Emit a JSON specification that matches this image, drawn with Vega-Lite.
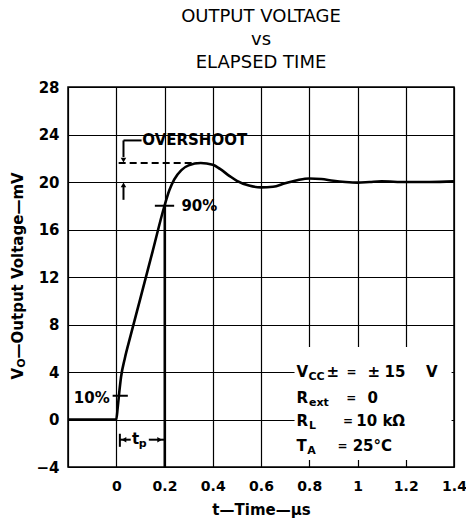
{
  "$schema": "https://vega.github.io/schema/vega-lite/v6.json",
  "width": 386,
  "height": 380,
  "autosize": {"type": "none"},
  "padding": {"left": 68, "top": 87, "right": 12, "bottom": 54},
  "background": "white",
  "config": {
    "view": {"stroke": "black", "strokeWidth": 1.5},
    "axis": {
      "grid": true, "gridColor": "black", "gridWidth": 1.2, "gridOpacity": 1,
      "ticks": false, "tickSize": 0, "domain": false,
      "labelFont": "DejaVu Sans", "labelFontWeight": "bold", "labelFontSize": 15, "labelColor": "black",
      "titleFont": "DejaVu Sans", "titleFontWeight": "bold", "titleFontSize": 15, "titleColor": "black"
    },
    "text": {"font": "DejaVu Sans", "fontWeight": "bold", "color": "black"}
  },
  "title": {
    "text": ["OUTPUT VOLTAGE", "vs", "ELAPSED TIME"],
    "font": "DejaVu Sans", "fontSize": 18, "fontWeight": "normal", "color": "black",
    "lineHeight": 23, "anchor": "middle", "frame": "group", "baseline": "bottom", "offset": -10
  },
  "datasets": {
    "curve": [
      {"x": -0.2, "y": 0}, {"x": 0, "y": 0}, {"x": 0.006, "y": 1}, {"x": 0.012, "y": 2.2},
      {"x": 0.02, "y": 3.6}, {"x": 0.035, "y": 5.1}, {"x": 0.06, "y": 7.1}, {"x": 0.1, "y": 10.2},
      {"x": 0.15, "y": 14.1}, {"x": 0.2, "y": 18}, {"x": 0.22, "y": 19.3}, {"x": 0.24, "y": 20.2},
      {"x": 0.27, "y": 21.0}, {"x": 0.3, "y": 21.4}, {"x": 0.35, "y": 21.6}, {"x": 0.4, "y": 21.45},
      {"x": 0.43, "y": 21.1}, {"x": 0.47, "y": 20.5}, {"x": 0.5, "y": 20.1}, {"x": 0.55, "y": 19.7},
      {"x": 0.6, "y": 19.55}, {"x": 0.65, "y": 19.6}, {"x": 0.7, "y": 19.9}, {"x": 0.75, "y": 20.15},
      {"x": 0.8, "y": 20.3}, {"x": 0.85, "y": 20.25}, {"x": 0.9, "y": 20.1}, {"x": 0.95, "y": 20.0},
      {"x": 1.0, "y": 19.95}, {"x": 1.05, "y": 20.0}, {"x": 1.1, "y": 20.05}, {"x": 1.2, "y": 20.0},
      {"x": 1.3, "y": 20.0}, {"x": 1.4, "y": 20.05}
    ],
    "mask": [{"x": 0.739, "x2": 1.39, "y": -3.4, "y2": 6.1}],
    "rules": [
      {"x": -0.015, "x2": 0.048, "y": 2, "y2": 2, "kind": "solid"},
      {"x": 0.16, "x2": 0.24, "y": 18, "y2": 18, "kind": "solid"},
      {"x": 0.03, "x2": 0.105, "y": 23.5, "y2": 23.5, "kind": "solid"},
      {"x": 0.03, "x2": 0.03, "y": 23.5, "y2": 22.1, "kind": "solid"},
      {"x": 0.03, "x2": 0.03, "y": 18.5, "y2": 19.6, "kind": "solid"},
      {"x": 0.015, "x2": 0.015, "y": -1.2, "y2": -2.3, "kind": "solid"},
      {"x": 0.015, "x2": 0.06, "y": -1.7, "y2": -1.7, "kind": "solid"},
      {"x": 0.135, "x2": 0.2, "y": -1.7, "y2": -1.7, "kind": "solid"},
      {"x": 0.2, "x2": 0.2, "y": 18, "y2": -4, "kind": "solid"},
      {"x": 0.01, "x2": 0.37, "y": 21.6, "y2": 21.6, "kind": "dash"}
    ],
    "arrows": [
      {"x": 0.03, "y": 21.85, "dir": "down"},
      {"x": 0.03, "y": 19.75, "dir": "up"},
      {"x": 0.032, "y": -1.7, "dir": "left"},
      {"x": 0.18, "y": -1.7, "dir": "right"}
    ],
    "texts": [
      {"x": 0.108, "y": 23.5, "t": "OVERSHOOT", "role": "main"},
      {"x": 0.27, "y": 18.0, "t": "90%", "role": "main"},
      {"x": -0.027, "y": 1.8, "t": "10%", "role": "right"},
      {"x": 0.065, "y": -1.6, "t": "t", "role": "main"},
      {"x": 0.093, "y": -1.6, "t": "p", "role": "sub"},
      {"x": 0.747, "y": 3.96, "t": "V", "role": "main"},
      {"x": 0.797, "y": 3.96, "t": "CC", "role": "sub"},
      {"x": 0.872, "y": 3.96, "t": "±", "role": "main"},
      {"x": 0.954, "y": 3.96, "t": "=", "role": "eq"},
      {"x": 1.041, "y": 3.96, "t": "±", "role": "main"},
      {"x": 1.112, "y": 3.96, "t": "15", "role": "main"},
      {"x": 1.284, "y": 3.96, "t": "V", "role": "main"},
      {"x": 0.747, "y": 1.77, "t": "R", "role": "main"},
      {"x": 0.799, "y": 1.77, "t": "ext", "role": "sub"},
      {"x": 0.953, "y": 1.77, "t": "=", "role": "eq"},
      {"x": 1.041, "y": 1.77, "t": "0", "role": "main"},
      {"x": 0.747, "y": -0.14, "t": "R", "role": "main"},
      {"x": 0.799, "y": -0.14, "t": "L", "role": "sub"},
      {"x": 0.94, "y": -0.14, "t": "=", "role": "eq"},
      {"x": 0.995, "y": -0.14, "t": "10 kΩ", "role": "main"},
      {"x": 0.747, "y": -2.25, "t": "T", "role": "main"},
      {"x": 0.792, "y": -2.25, "t": "A", "role": "sub"},
      {"x": 0.917, "y": -2.25, "t": "=", "role": "eq"},
      {"x": 0.98, "y": -2.25, "t": "25°C", "role": "main"},
      {"x": -0.408, "y": 3.37, "t": "V", "role": "ytitle"},
      {"x": -0.408, "y": 4.35, "t": "O", "role": "ytitlesub"},
      {"x": -0.408, "y": 5.14, "t": "—Output Voltage—mV", "role": "ytitle"}
    ]
  },
  "encoding": {
    "x": {"field": "x", "type": "quantitative",
      "scale": {"domain": [-0.2, 1.4], "nice": false, "zero": false},
      "axis": {"values": [-0.2, 0, 0.2, 0.4, 0.6, 0.8, 1, 1.2, 1.4],
        "labelExpr": "datum.value < -0.1 ? '' : format(datum.value, '~g')",
        "labelFontSize": 14, "labelPadding": 12, "labelFlush": false,
        "title": "t—Time—µs", "titlePadding": 9}},
    "y": {"field": "y", "type": "quantitative",
      "scale": {"domain": [-4, 28], "nice": false, "zero": false},
      "axis": {"values": [-4, 0, 4, 8, 12, 16, 20, 24, 28], "labelPadding": 9, "title": null}}
  },
  "layer": [
    {
      "data": {"name": "mask"},
      "mark": {"type": "rect", "fill": "white"},
      "encoding": {"x2": {"field": "x2"}, "y2": {"field": "y2"}}
    },
    {
      "data": {"name": "curve"},
      "mark": {"type": "line", "color": "black", "strokeWidth": 2.6, "interpolate": "monotone"}
    },
    {
      "data": {"name": "rules"},
      "transform": [{"filter": "datum.kind == 'solid'"}],
      "mark": {"type": "rule", "color": "black", "strokeWidth": 2},
      "encoding": {"x2": {"field": "x2"}, "y2": {"field": "y2"}}
    },
    {
      "data": {"name": "rules"},
      "transform": [{"filter": "datum.kind == 'dash'"}],
      "mark": {"type": "rule", "color": "black", "strokeWidth": 2, "strokeDash": [7, 4]},
      "encoding": {"x2": {"field": "x2"}, "y2": {"field": "y2"}}
    },
    {
      "data": {"name": "arrows"},
      "transform": [{"filter": "datum.dir == 'down'"}],
      "mark": {"type": "point", "shape": "triangle-down", "filled": true, "color": "black", "size": 30, "opacity": 1}
    },
    {
      "data": {"name": "arrows"},
      "transform": [{"filter": "datum.dir == 'up'"}],
      "mark": {"type": "point", "shape": "triangle-up", "filled": true, "color": "black", "size": 30, "opacity": 1}
    },
    {
      "data": {"name": "arrows"},
      "transform": [{"filter": "datum.dir == 'left'"}],
      "mark": {"type": "point", "shape": "triangle-left", "filled": true, "color": "black", "size": 30, "opacity": 1}
    },
    {
      "data": {"name": "arrows"},
      "transform": [{"filter": "datum.dir == 'right'"}],
      "mark": {"type": "point", "shape": "triangle-right", "filled": true, "color": "black", "size": 30, "opacity": 1}
    },
    {
      "data": {"name": "texts"},
      "transform": [{"filter": "datum.role == 'main'"}],
      "mark": {"type": "text", "align": "left", "baseline": "middle", "fontSize": 15},
      "encoding": {"text": {"field": "t"}}
    },
    {
      "data": {"name": "texts"},
      "transform": [{"filter": "datum.role == 'eq'"}],
      "mark": {"type": "text", "align": "left", "baseline": "middle", "fontSize": 12},
      "encoding": {"text": {"field": "t"}}
    },
    {
      "data": {"name": "texts"},
      "transform": [{"filter": "datum.role == 'sub'"}],
      "mark": {"type": "text", "align": "left", "baseline": "middle", "fontSize": 11, "dy": 5},
      "encoding": {"text": {"field": "t"}}
    },
    {
      "data": {"name": "texts"},
      "transform": [{"filter": "datum.role == 'right'"}],
      "mark": {"type": "text", "align": "right", "baseline": "middle", "fontSize": 15},
      "encoding": {"text": {"field": "t"}}
    },
    {
      "data": {"name": "texts"},
      "transform": [{"filter": "datum.role == 'ytitle'"}],
      "mark": {"type": "text", "align": "left", "baseline": "middle", "fontSize": 15, "angle": 270},
      "encoding": {"text": {"field": "t"}}
    },
    {
      "data": {"name": "texts"},
      "transform": [{"filter": "datum.role == 'ytitlesub'"}],
      "mark": {"type": "text", "align": "left", "baseline": "middle", "fontSize": 11, "angle": 270, "dy": 4},
      "encoding": {"text": {"field": "t"}}
    }
  ]
}
